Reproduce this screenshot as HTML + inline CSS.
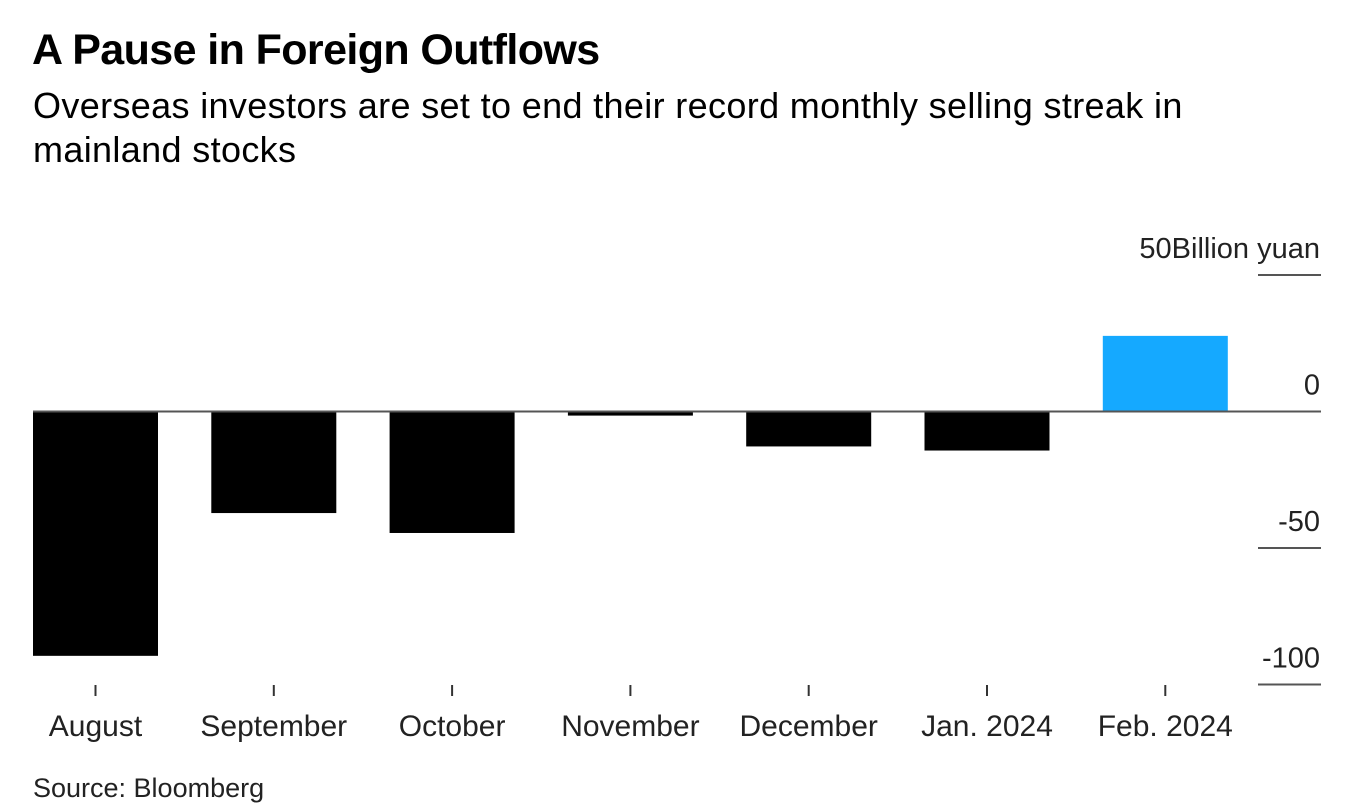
<!DOCTYPE html>
<html><head><meta charset="utf-8">
<style>
body{margin:0;background:#fff;width:1347px;height:811px;overflow:hidden;font-family:"Liberation Sans",Arial,sans-serif;}
#title{position:absolute;left:32px;top:26px;font-size:43px;font-weight:bold;color:#000;letter-spacing:-0.6px;}
#sub{position:absolute;left:33px;top:84px;font-size:36px;letter-spacing:0.35px;line-height:44px;color:#000;width:1230px;}
#src{position:absolute;left:33px;top:773px;font-size:27px;color:#222;}
svg{position:absolute;left:0;top:0;}
</style></head><body>
<div id="title">A Pause in Foreign Outflows</div>
<div id="sub">Overseas investors are set to end their record monthly selling streak in mainland stocks</div>
<div id="src">Source: Bloomberg</div>
<svg id="chart" width="1347" height="811"></svg>
<script>
const categories=["August","September","October","November","December","Jan. 2024","Feb. 2024"];
const values=[-89.5,-37.2,-44.5,-1.5,-12.8,-14.3,27.7];
const yTicks=[50,0,-50,-100];
const yTickLabels=["50","0","-50","-100"];
const svg=document.getElementById('chart');
const NS='http://www.w3.org/2000/svg';
const zeroY=411.5, pxPerUnit=2.73;
function y(v){return zeroY-v*pxPerUnit;}
const x0=33, step=178.3, barW=125;
function xLeft(i){return x0+i*step;}
function mk(tag,attrs){const e=document.createElementNS(NS,tag);for(const k in attrs)e.setAttribute(k,attrs[k]);svg.appendChild(e);return e;}
yTicks.forEach((t,i)=>{
  const yy=y(t);
  if(t!==0){
    const l=mk('line',{x1:1258,x2:1321,y1:yy,y2:yy,stroke:'#555','stroke-width':2});
    
    
  }
  const tx=mk('text',{x:1320,y:yy-17,'text-anchor':'end','font-size':29,fill:'#222'});
  tx.textContent=yTickLabels[i]+(i===0?'Billion yuan':'');
  
  
});
values.forEach((v,i)=>{
  const top=Math.min(y(v),zeroY), h=Math.abs(y(v)-zeroY);
  const r=mk('rect',{x:xLeft(i),y:top,width:barW,height:Math.max(h,1),fill:v>0?'#15a9ff':'#000'});
  
  
  const cx=xLeft(i)+barW/2;
  const tk=mk('line',{x1:cx,x2:cx,y1:685,y2:696,stroke:'#333','stroke-width':2});
  
  
  const lb=mk('text',{x:cx,y:736,'text-anchor':'middle','font-size':30,fill:'#222'});
  lb.textContent=categories[i];
  
  
});
const z=mk('line',{x1:33,x2:1321,y1:zeroY,y2:zeroY,stroke:'#555','stroke-width':2});


</script>
</body></html>
